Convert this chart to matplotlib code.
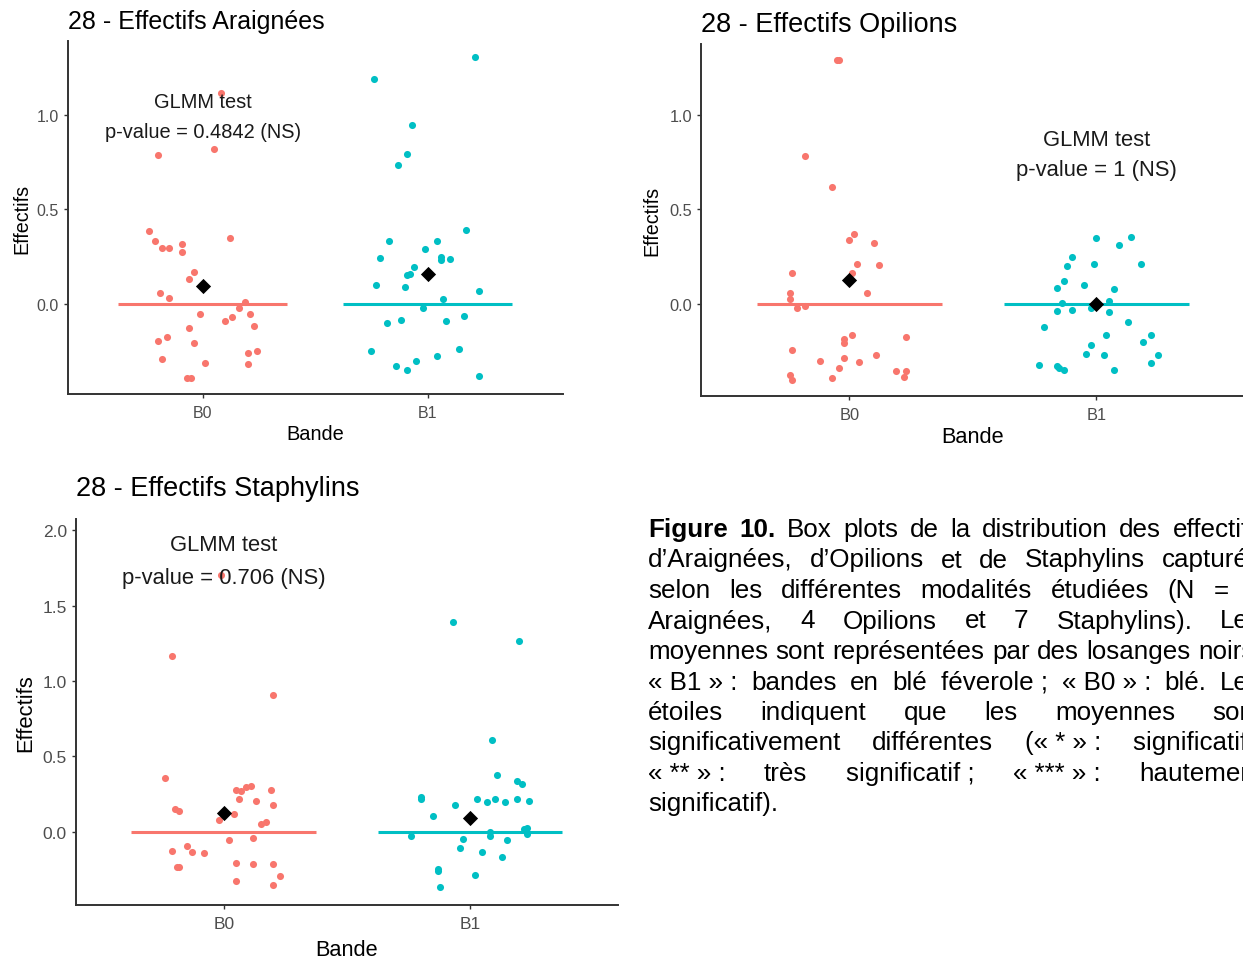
import numpy as np
import matplotlib.pyplot as plt

plt.rcParams['font.family'] = ['Liberation Sans', 'DejaVu Sans']

W, H = 1243, 962

groups = ['B0', 'B1']
colors = ['#F8766D', '#00BFC4']

# jittered points: x offset from the group, y value
arai_b0_dx = [0.08, -0.20, 0.05, -0.24, -0.21, -0.18, -0.15, -0.09, -0.09, 0.12, -0.04, -0.06, -0.19, -0.15, 0.19, 0.16,
              -0.01, 0.21, 0.13, 0.10, 0.23, -0.06, -0.16, -0.20, -0.04, 0.24, 0.20, -0.18, 0.01, 0.20, -0.07, -0.05]
arai_b0_y = [1.115, 0.79, 0.818, 0.383, 0.332, 0.296, 0.296, 0.319, 0.275, 0.346, 0.168, 0.132, 0.06, 0.032, 0.011, -0.02,
             -0.055, -0.055, -0.069, -0.09, -0.118, -0.125, -0.176, -0.197, -0.205, -0.247, -0.261, -0.289, -0.31, -0.317, -0.39, -0.39]
arai_b1_dx = [0.21, -0.24, -0.07, -0.09, -0.13, 0.17, -0.17, 0.04, -0.01, -0.21, 0.06, 0.06, 0.10, -0.06, -0.08, -0.09,
              -0.23, -0.10, 0.23, 0.07, -0.02, 0.16, -0.12, 0.08, -0.18, -0.25, 0.14, 0.04, -0.05, -0.14, -0.09, 0.23]
arai_b1_y = [1.305, 1.189, 0.947, 0.795, 0.732, 0.39, 0.332, 0.332, 0.289, 0.245, 0.247, 0.231, 0.238, 0.196, 0.16, 0.152,
             0.102, 0.088, 0.067, 0.025, -0.02, -0.062, -0.083, -0.09, -0.099, -0.247, -0.24, -0.275, -0.303, -0.326, -0.348, -0.383]

opil_b0_dx = [-0.05, -0.04, -0.18, -0.07, 0.02, 0.0, 0.10, 0.03, 0.12, -0.23, 0.01, 0.07, -0.24, -0.24, -0.21, -0.18,
              0.01, -0.02, -0.02, 0.23, -0.23, -0.02, 0.11, -0.12, 0.04, -0.04, -0.24, -0.23, -0.07, 0.19, 0.23, 0.22]
opil_b0_y = [1.293, 1.293, 0.784, 0.62, 0.37, 0.34, 0.321, 0.212, 0.206, 0.161, 0.161, 0.055, 0.055, 0.025, -0.024, -0.011,
             -0.166, -0.187, -0.21, -0.18, -0.246, -0.29, -0.274, -0.303, -0.31, -0.34, -0.38, -0.404, -0.396, -0.359, -0.359, -0.388]
opil_b1_dx = [0.0, 0.14, 0.09, -0.10, -0.12, -0.01, 0.18, -0.13, -0.16, -0.05, 0.07, -0.14, 0.05, -0.16, -0.10, -0.02,
              0.05, -0.21, 0.13, 0.04, 0.22, 0.19, -0.02, -0.04, 0.03, 0.25, -0.23, -0.16, -0.13, 0.07, 0.22, -0.15]
opil_b1_y = [0.349, 0.356, 0.312, 0.248, 0.198, 0.212, 0.212, 0.119, 0.083, 0.098, 0.076, 0.005, 0.013, -0.039, -0.032, -0.024,
             -0.046, -0.124, -0.096, -0.168, -0.168, -0.203, -0.218, -0.267, -0.274, -0.274, -0.324, -0.331, -0.354, -0.354, -0.317, -0.34]

staph_b0_dx = [-0.01, -0.21, 0.20, -0.24, 0.05, 0.07, 0.09, 0.11, 0.19, 0.06, 0.13, 0.20, -0.20, -0.18, 0.04, -0.02,
               0.15, 0.17, 0.02, 0.12, -0.15, -0.21, -0.13, -0.08, -0.19, -0.18, 0.05, 0.12, 0.20, 0.23, 0.05, 0.20]
staph_b0_y = [1.706, 1.168, 0.909, 0.355, 0.276, 0.267, 0.296, 0.304, 0.276, 0.214, 0.205, 0.174, 0.147, 0.134, 0.114, 0.074,
              0.052, 0.063, -0.056, -0.045, -0.094, -0.127, -0.138, -0.145, -0.236, -0.236, -0.207, -0.216, -0.216, -0.296, -0.327, -0.358]
staph_b1_dx = [-0.07, 0.20, 0.09, 0.11, 0.19, 0.21, -0.20, -0.20, -0.06, 0.03, 0.07, 0.10, 0.14, 0.19, 0.24, -0.15,
               -0.24, -0.03, 0.08, 0.08, 0.15, 0.23, 0.23, -0.04, 0.05, 0.13, -0.13, -0.13, 0.02, -0.12, 0.22]
staph_b1_y = [1.39, 1.268, 0.606, 0.375, 0.336, 0.316, 0.218, 0.227, 0.174, 0.214, 0.194, 0.214, 0.194, 0.214, 0.205, 0.103,
              -0.03, -0.048, -0.03, -0.001, -0.056, 0.023, -0.017, -0.108, -0.136, -0.167, -0.262, -0.251, -0.287, -0.367, 0.017]

arai_means = [0.094, 0.156]
opil_means = [0.125, 0.0]
staph_means = [0.125, 0.09]
medians = [0.0, 0.0]

fig = plt.figure(figsize=(W / 100, H / 100), dpi=100)


def box(l, t, r, b):
    return [l / W, 1 - b / H, (r - l) / W, (b - t) / H]


def panel(rect, title, pts, means, ylim, yticks, note, note_xy, fs, title_pad, xl_y, yl_x, lsp):
    ax = fig.add_axes(rect)
    for i, (dx, y) in enumerate(pts):
        x0 = i + 1
        ax.hlines(medians[i], x0 - 0.375, x0 + 0.375, color=colors[i], lw=2.2, zorder=2)
        ax.scatter(x0 + np.array(dx), y, s=26, color=colors[i], lw=0, zorder=3)
    ax.scatter([1, 2], means, marker='D', s=60, color='black', lw=0, zorder=4)
    ax.text(note_xy[0], note_xy[1], note, ha='center', va='center', fontsize=fs[2],
            color='#1a1a1a', linespacing=lsp, zorder=5)
    ax.set_xlim(0.4, 2.6)
    ax.set_ylim(*ylim)
    ax.set_xticks([1, 2], groups)
    ax.set_yticks(yticks, [f'{v:.1f}' for v in yticks])
    for s in ['top', 'right']:
        ax.spines[s].set_visible(False)
    for s in ['left', 'bottom']:
        ax.spines[s].set_color('#333333')
        ax.spines[s].set_linewidth(1.4)
    ax.tick_params(length=3, width=1.0, color='#333333', labelcolor='#4D4D4D',
                   labelsize=fs[3])
    ax.tick_params(axis='x', pad=5)
    ax.tick_params(axis='y', pad=3.5)
    ax.set_title(title, loc='left', fontsize=fs[0], pad=title_pad)
    ax.set_xlabel('Bande', fontsize=fs[1], va='center')
    ax.xaxis.set_label_coords(0.5, xl_y)
    ax.set_ylabel('Effectifs', fontsize=fs[4], va='center')
    ax.yaxis.set_label_coords(yl_x, 0.5)
    return ax


panel(box(67.7, 42, 562.7, 395), '28 - Effectifs Araignées',
      [(arai_b0_dx, arai_b0_y), (arai_b1_dx, arai_b1_y)], arai_means,
      (-0.476, 1.39), [0.0, 0.5, 1.0], 'GLMM test\np-value = 0.4842 (NS)', (1.0, 0.99),
      (18, 14.4, 14.4, 11.5, 14.2), 9.6, -0.113, -0.092, 1.75)

panel(box(701.1, 45, 1244.5, 396.7), '28 - Effectifs Opilions',
      [(opil_b0_dx, opil_b0_y), (opil_b1_dx, opil_b1_y)], opil_means,
      (-0.489, 1.378), [0.0, 0.5, 1.0], 'GLMM test\np-value = 1 (NS)', (2.0, 0.79),
      (19.5, 15.7, 15.8, 11.8, 14.2), 9.0, -0.115, -0.090, 1.55)

panel(box(76, 520, 617.8, 906), '28 - Effectifs Staphylins',
      [(staph_b0_dx, staph_b0_y), (staph_b1_dx, staph_b1_y)], staph_means,
      (-0.488, 2.076), [0.0, 0.5, 1.0, 1.5, 2.0], 'GLMM test\np-value = 0.706 (NS)', (1.0, 1.80),
      (19.5, 15.7, 15.8, 12.5, 15.8), 17, -0.114, -0.0926, 1.75)

# caption, justified by hand
caption = [
    [('Figure', True), ('10.', True), ('Box', False), ('plots', False), ('de', False), ('la', False),
     ('distribution', False), ('des', False), ('effectifs', False)],
    'd’Araignées, d’Opilions et de Staphylins capturés',
    'selon les différentes modalités étudiées (N = 8',
    'Araignées, 4 Opilions et 7 Staphylins). Les',
    'moyennes sont représentées par des losanges noirs.',
    ['« B1 » :', 'bandes', 'en', 'blé', 'féverole ;', '« B0 » :', 'blé.', 'Les'],
    'étoiles indiquent que les moyennes sont',
    ['significativement', 'différentes', '(« * » :', 'significatif ;'],
    ['« ** » :', 'très', 'significatif ;', '« *** » :', 'hautement'],
    'significatif).',
]
cap_fs = 18.7
cap_left, cap_right = 648, 1262
base0, step = 537, 30.5

renderer = fig.canvas.get_renderer()
probe = fig.text(0, 0, 'a a', fontsize=cap_fs)
probe2 = fig.text(0, 0, 'aa', fontsize=cap_fs)
space_w = probe.get_window_extent(renderer).width - probe2.get_window_extent(renderer).width
probe.remove()
probe2.remove()

for li, line in enumerate(caption):
    if isinstance(line, str):
        line = line.split(' ')
    tokens = [(w, False) if isinstance(w, str) else w for w in line]
    y = 1 - (base0 + li * step) / H
    texts = []
    widths = []
    for word, bold in tokens:
        t = fig.text(0, y, word, fontsize=cap_fs, fontweight='bold' if bold else 'normal',
                     va='baseline', ha='left', color='black')
        texts.append(t)
        widths.append(t.get_window_extent(renderer).width)
    if li == len(caption) - 1:
        gap = space_w
    else:
        gap = (cap_right - cap_left - sum(widths)) / (len(tokens) - 1)
    x = cap_left
    for t, w in zip(texts, widths):
        t.set_x(x / W)
        x += w + gap

fig.savefig('out.png', dpi=100)
